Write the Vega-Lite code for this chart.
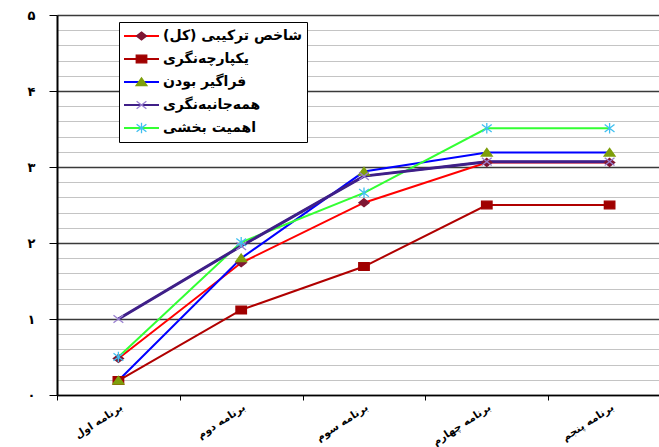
{
  "$schema": "https://vega.github.io/schema/vega-lite/v6.json",
  "width": 602,
  "height": 380,
  "autosize": {"type": "none"},
  "padding": {"left": 57, "top": 15, "right": 0, "bottom": 52},
  "background": "white",
  "config": {"view": {"stroke": null}, "font": "DejaVu Sans"},
  "data": {
    "values": [
      {"series": "شاخص ترکیبی (کل)", "k": 1, "program": "برنامه اول", "value": 0.48},
      {"series": "شاخص ترکیبی (کل)", "k": 1, "program": "برنامه دوم", "value": 1.74},
      {"series": "شاخص ترکیبی (کل)", "k": 1, "program": "برنامه سوم", "value": 2.53},
      {"series": "شاخص ترکیبی (کل)", "k": 1, "program": "برنامه چهارم", "value": 3.06},
      {"series": "شاخص ترکیبی (کل)", "k": 1, "program": "برنامه پنجم", "value": 3.06},
      {"series": "یکپارچه\u200cنگری", "k": 2, "program": "برنامه اول", "value": 0.19},
      {"series": "یکپارچه\u200cنگری", "k": 2, "program": "برنامه دوم", "value": 1.12},
      {"series": "یکپارچه\u200cنگری", "k": 2, "program": "برنامه سوم", "value": 1.69},
      {"series": "یکپارچه\u200cنگری", "k": 2, "program": "برنامه چهارم", "value": 2.5},
      {"series": "یکپارچه\u200cنگری", "k": 2, "program": "برنامه پنجم", "value": 2.5},
      {"series": "فراگیر بودن", "k": 3, "program": "برنامه اول", "value": 0.19},
      {"series": "فراگیر بودن", "k": 3, "program": "برنامه دوم", "value": 1.8},
      {"series": "فراگیر بودن", "k": 3, "program": "برنامه سوم", "value": 2.94},
      {"series": "فراگیر بودن", "k": 3, "program": "برنامه چهارم", "value": 3.19},
      {"series": "فراگیر بودن", "k": 3, "program": "برنامه پنجم", "value": 3.19},
      {"series": "همه\u200cجانبه\u200cنگری", "k": 4, "program": "برنامه اول", "value": 1.0},
      {"series": "همه\u200cجانبه\u200cنگری", "k": 4, "program": "برنامه دوم", "value": 1.96},
      {"series": "همه\u200cجانبه\u200cنگری", "k": 4, "program": "برنامه سوم", "value": 2.88},
      {"series": "همه\u200cجانبه\u200cنگری", "k": 4, "program": "برنامه چهارم", "value": 3.07},
      {"series": "همه\u200cجانبه\u200cنگری", "k": 4, "program": "برنامه پنجم", "value": 3.07},
      {"series": "اهمیت بخشی", "k": 5, "program": "برنامه اول", "value": 0.5},
      {"series": "اهمیت بخشی", "k": 5, "program": "برنامه دوم", "value": 2.01},
      {"series": "اهمیت بخشی", "k": 5, "program": "برنامه سوم", "value": 2.66},
      {"series": "اهمیت بخشی", "k": 5, "program": "برنامه چهارم", "value": 3.51},
      {"series": "اهمیت بخشی", "k": 5, "program": "برنامه پنجم", "value": 3.51}
    ]
  },
  "encoding": {
    "x": {
      "field": "program",
      "type": "nominal",
      "sort": ["برنامه اول", "برنامه دوم", "برنامه سوم", "برنامه چهارم", "برنامه پنجم"],
      "scale": {"type": "band", "range": [0, 614], "paddingInner": 0, "paddingOuter": 0},
      "axis": {
        "title": null,
        "tickBand": "extent",
        "labelAngle": -33,
        "labelFont": "DejaVu Sans",
        "labelFontWeight": "bold",
        "labelFontSize": 10.5,
        "labelColor": "black",
        "domainColor": "black",
        "domainWidth": 1.5,
        "tickColor": "black",
        "tickSize": 5,
        "tickWidth": 1,
        "labelPadding": 2,
        "grid": false
      }
    },
    "y": {
      "field": "value",
      "type": "quantitative",
      "scale": {"domain": [0, 5], "nice": false, "zero": true},
      "axis": {
        "title": null,
        "values": [0, 0.2, 0.4, 0.6, 0.8, 1, 1.2, 1.4, 1.6, 1.8, 2, 2.2, 2.4, 2.6, 2.8, 3, 3.2, 3.4, 3.6, 3.8, 4, 4.2, 4.4, 4.6, 4.8, 5],
        "grid": true,
        "gridColor": {"condition": {"test": "datum.value % 1 === 0", "value": "#3a3a3a"}, "value": "#c4c4c4"},
        "gridWidth": {"condition": {"test": "datum.value % 1 === 0", "value": 1.5}, "value": 1},
        "tickColor": {"condition": {"test": "datum.value % 1 === 0", "value": "black"}, "value": "transparent"},
        "tickSize": 8,
        "labelExpr": "datum.value % 1 === 0 ? ['۰','۱','۲','۳','۴','۵'][datum.value] : ''",
        "labelFont": "DejaVu Sans",
        "labelFontWeight": "bold",
        "labelFontSize": 13,
        "labelColor": "black",
        "labelPadding": 14,
        "labelOverlap": false,
        "labelBound": false,
        "labelFlush": false,
        "domainColor": "black",
        "domainWidth": 2
      }
    }
  },
  "layer": [
    {
      "mark": {"type": "line", "strokeWidth": 2},
      "encoding": {
        "color": {
          "field": "series",
          "type": "nominal",
          "scale": {
            "domain": ["شاخص ترکیبی (کل)", "یکپارچه\u200cنگری", "فراگیر بودن", "همه\u200cجانبه\u200cنگری", "اهمیت بخشی"],
            "range": ["#ff0000", "#b00000", "#0000ff", "#3f1f88", "#33ff33"]
          },
          "legend": {
            "title": null,
            "orient": "none",
            "legendX": 62,
            "legendY": 7,
            "symbolType": "stroke",
            "symbolSize": 1225,
            "symbolStrokeWidth": 2,
            "clipHeight": 20,
            "rowPadding": 3,
            "padding": 4,
            "symbolOffset": 0,
            "labelOffset": 3,
            "labelFont": "DejaVu Sans",
            "labelFontSize": 14,
            "labelFontWeight": "bold",
            "labelColor": "black",
            "labelLimit": 300,
            "fillColor": "white",
            "strokeColor": "black"
          }
        }
      }
    },
    {
      "transform": [{"filter": "datum.k === 4"}],
      "mark": {"type": "line", "strokeWidth": 3},
      "encoding": {
        "color": {
          "field": "series",
          "type": "nominal",
          "scale": {
            "domain": ["شاخص ترکیبی (کل)", "یکپارچه\u200cنگری", "فراگیر بودن", "همه\u200cجانبه\u200cنگری", "اهمیت بخشی"],
            "range": ["#ff0000", "#b00000", "#0000ff", "#3f1f88", "#33ff33"]
          },
          "legend": null
        }
      }
    },
    {
      "mark": {"type": "point", "filled": true, "size": 1225, "strokeWidth": 1.3, "opacity": 1},
      "encoding": {
        "shape": {
          "field": "series",
          "type": "nominal",
          "sort": {"field": "k", "op": "min"},
          "scale": {
            "range": [
              "M0,-0.23L0.29,0L0,0.23L-0.29,0Z",
              "M-0.3,-0.22H0.3V0.22H-0.3Z",
              "M0,-0.24L0.31,0.2H-0.31Z",
              "M-0.28,-0.22L0.28,0.22M-0.28,0.22L0.28,-0.22",
              "M-0.28,-0.22L0.28,0.22M-0.28,0.22L0.28,-0.22M0,-0.3V0.3"
            ]
          },
          "legend": {
            "title": null,
            "orient": "none",
            "legendX": 62,
            "legendY": 7,
            "symbolSize": 1225,
            "symbolStrokeWidth": 1.3,
            "clipHeight": 20,
            "rowPadding": 3,
            "padding": 4,
            "symbolOffset": 0,
            "labelOffset": 3,
            "labelFont": "DejaVu Sans",
            "labelFontSize": 14,
            "labelFontWeight": "bold",
            "labelOpacity": 0,
            "labelLimit": 300
          }
        },
        "fill": {
          "field": "series",
          "type": "nominal",
          "sort": {"field": "k", "op": "min"},
          "scale": {"range": ["#7f1734", "#a00000", "#7e9f0c", "#9a80d0", "#40c0f0"]},
          "legend": {
            "title": null,
            "orient": "none",
            "legendX": 62,
            "legendY": 7,
            "symbolSize": 1225,
            "symbolStrokeWidth": 1.3,
            "clipHeight": 20,
            "rowPadding": 3,
            "padding": 4,
            "symbolOffset": 0,
            "labelOffset": 3,
            "labelFont": "DejaVu Sans",
            "labelFontSize": 14,
            "labelFontWeight": "bold",
            "labelOpacity": 0,
            "labelLimit": 300
          }
        },
        "stroke": {
          "field": "series",
          "type": "nominal",
          "sort": {"field": "k", "op": "min"},
          "scale": {"range": ["#7f1734", "#a00000", "#7e9f0c", "#9a80d0", "#40c0f0"]},
          "legend": {
            "title": null,
            "orient": "none",
            "legendX": 62,
            "legendY": 7,
            "symbolSize": 1225,
            "symbolStrokeWidth": 1.3,
            "clipHeight": 20,
            "rowPadding": 3,
            "padding": 4,
            "symbolOffset": 0,
            "labelOffset": 3,
            "labelFont": "DejaVu Sans",
            "labelFontSize": 14,
            "labelFontWeight": "bold",
            "labelOpacity": 0,
            "labelLimit": 300
          }
        }
      }
    }
  ]
}
